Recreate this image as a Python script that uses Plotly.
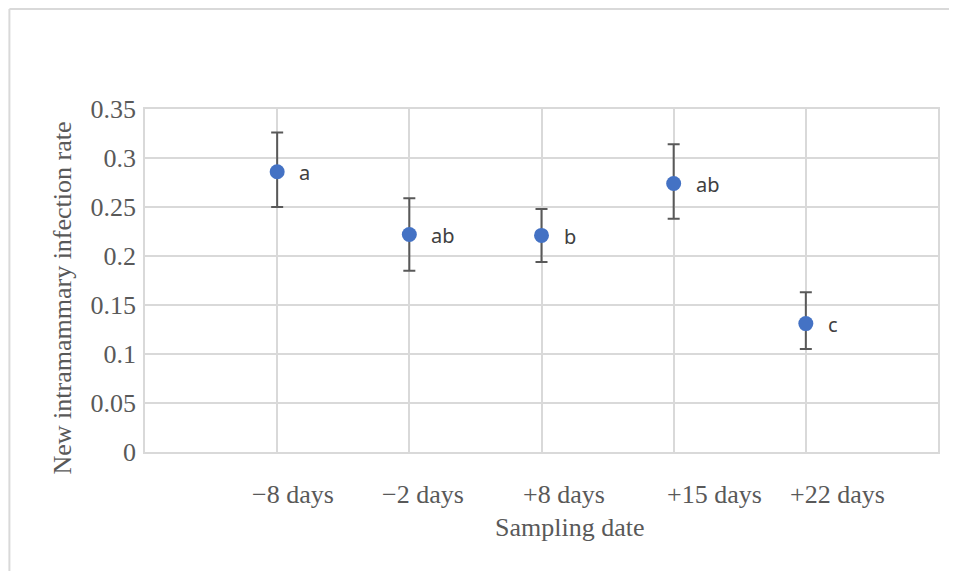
import plotly.graph_objects as go

categories = ["−8 days", "−2 days", "+8 days", "+15 days", "+22 days"]
cat_pos = [1, 2, 3, 4, 5]
rates = [0.286, 0.222, 0.221, 0.274, 0.131]
upper = [0.326, 0.259, 0.248, 0.314, 0.163]
lower = [0.250, 0.185, 0.194, 0.238, 0.105]
letters = ["a", "ab", "b", "ab", "c"]
label_pos = [1.12, 2.10, 3.17, 4.31, 5.24]

err_plus = [u - r for u, r in zip(upper, rates)]
err_minus = [r - l for r, l in zip(rates, lower)]

serif = "Liberation Serif"
gray = "#595959"
grid = "#d9d9d9"
fs = 26

fig = go.Figure()
fig.add_trace(go.Scatter(
    x=cat_pos, y=rates, mode="markers",
    marker=dict(size=15, color="#4472C4"),
    error_y=dict(type="data", symmetric=False, array=err_plus, arrayminus=err_minus,
                 color=gray, thickness=2, width=6),
    showlegend=False, cliponaxis=False,
))

for xp, yp, t in zip(cat_pos, rates, letters):
    fig.add_annotation(x=xp, y=yp, xref="x", yref="y", text=t, showarrow=False,
                       xanchor="left", yanchor="middle", xshift=20, yshift=-1,
                       font=dict(family="Noto Sans", size=20, color="#404040"))

fig.update_layout(
    width=941, height=563,
    margin=dict(l=137, r=9, t=101, b=119),
    paper_bgcolor="white", plot_bgcolor="white",
    xaxis=dict(range=[0, 6], tickvals=[0, 1, 2, 3, 4, 5, 6], showticklabels=False,
               showgrid=True, gridcolor=grid, gridwidth=1.5, zeroline=False,
               showline=True, linecolor=grid, linewidth=1.5, mirror=True, ticks=""),
    yaxis=dict(range=[0, 0.35], dtick=0.05, tick0=0, showgrid=True, gridcolor=grid,
               gridwidth=1.5, zeroline=False, showline=True, linecolor=grid, linewidth=1.5,
               mirror=True, ticks="", ticklabelstandoff=2,
               tickfont=dict(family=serif, size=fs, color=gray)),
)

for c, xp in zip(categories, label_pos):
    fig.add_annotation(x=xp, y=-0.125, xref="x", yref="paper", text=c, showarrow=False,
                       font=dict(family=serif, size=fs, color=gray), xanchor="center", yanchor="middle")

fig.add_annotation(x=0.535, y=-0.219, xref="paper", yref="paper", text="Sampling date",
                   showarrow=False, font=dict(family=serif, size=fs, color=gray),
                   xanchor="center", yanchor="middle")
fig.add_annotation(x=-0.104, y=0.449, xref="paper", yref="paper",
                   text="New intramammary infection rate", textangle=-90, showarrow=False,
                   font=dict(family=serif, size=fs, color=gray), xanchor="center", yanchor="middle")

# outer chart border (top and left)
fig.add_shape(type="line", xref="paper", yref="paper", x0=-0.171, x1=1.03, y0=1.2915, y1=1.2915,
              line=dict(color=grid, width=2))
fig.add_shape(type="line", xref="paper", yref="paper", x0=-0.171, x1=-0.171, y0=1.2915, y1=-0.4,
              line=dict(color=grid, width=2))

fig.write_html("out.html")
